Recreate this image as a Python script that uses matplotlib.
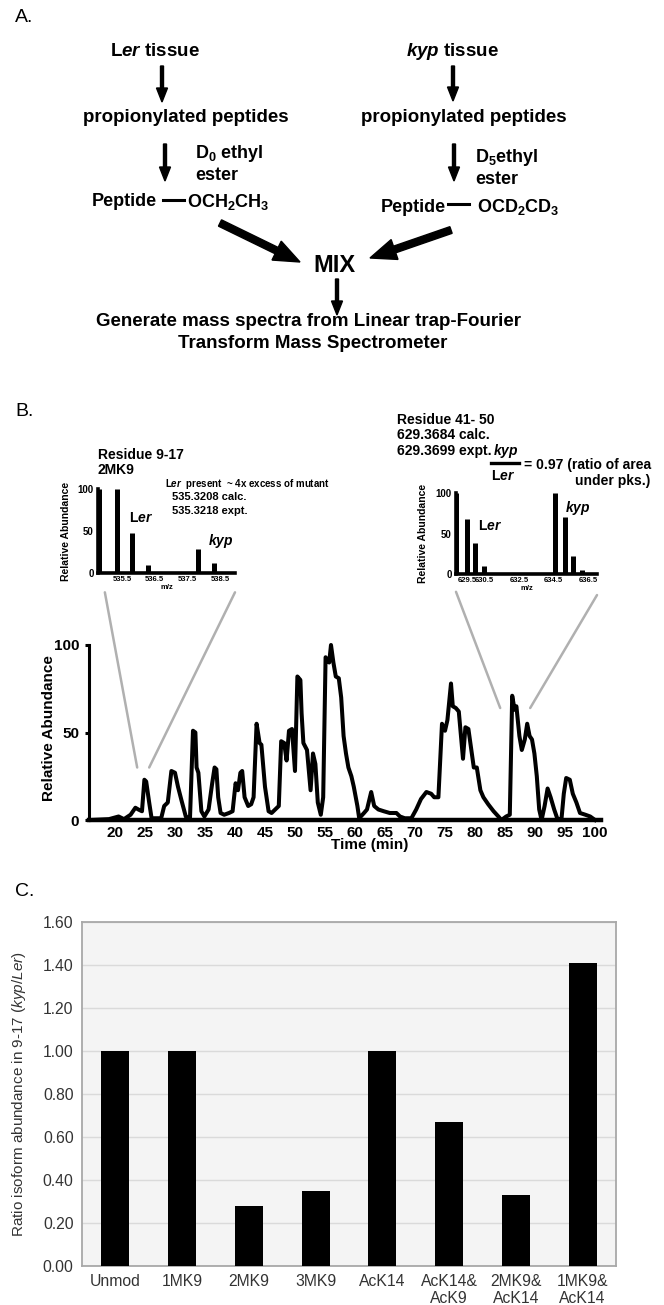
import numpy as np
import matplotlib
matplotlib.use("Agg")
from matplotlib import pyplot as plt
from matplotlib.patches import ConnectionPatch

plt.rcParams["font.family"] = ["Liberation Sans", "DejaVu Sans"]
plt.rcParams["mathtext.fontset"] = "custom"
plt.rcParams["mathtext.rm"] = "Liberation Sans"
plt.rcParams["mathtext.it"] = "Liberation Sans:italic"
plt.rcParams["mathtext.bf"] = "Liberation Sans:bold"
plt.rcParams["mathtext.bfit"] = "Liberation Sans:italic:bold"

# ---- data ----
# inset spectrum, residue 9-17 (2MK9)
mz_left = [534.79, 535.34, 535.80, 536.29, 537.83, 538.32]
abund_left = [100, 100, 48, 10, 28, 12]
mz_left_ticks = [535.5, 536.5, 537.5, 538.5]

# inset spectrum, residue 41-50
mz_right = [628.86, 629.50, 629.96, 630.48, 634.59, 635.17, 635.63, 636.15]
abund_right = [100, 68, 38, 10, 100, 70, 22, 5]
mz_right_ticks = [629.5, 630.5, 632.5, 634.5, 636.5]

# chromatogram
time_min = [16.0, 19.0, 20.6, 21.5, 22.6, 23.4, 23.9, 24.5, 24.9, 25.2, 25.7, 26.1,
            27.7, 28.2, 28.8, 29.4, 30.0, 30.5, 31.1, 31.8, 32.5, 33.0, 33.4, 33.6,
            33.9, 34.4, 34.9, 35.6, 36.2, 36.6, 36.9, 37.2, 37.6, 38.2, 39.0, 39.6,
            40.1, 40.5, 40.9, 41.2, 41.6, 42.2, 42.7, 43.1, 43.6, 44.1, 44.4, 45.0,
            45.6, 46.1, 46.7, 47.3, 47.7, 48.2, 48.6, 49.0, 49.5, 50.0, 50.4, 50.9,
            51.1, 51.4, 52.0, 52.6, 53.0, 53.4, 53.8, 54.3, 54.7, 55.1, 55.7, 56.0,
            56.4, 56.8, 57.3, 57.7, 58.1, 58.5, 58.9, 59.4, 59.8, 60.4, 60.7, 61.5,
            62.0, 62.7, 63.2, 63.9, 64.8, 65.8, 66.9, 67.5, 68.3, 69.4, 70.2, 71.0,
            71.9, 72.7, 73.2, 73.9, 74.5, 75.0, 75.4, 76.0, 76.3, 76.8, 77.3, 78.0,
            78.4, 78.9, 79.4, 79.8, 80.3, 80.9, 81.4, 82.2, 83.1, 83.9, 84.4, 85.2,
            85.8, 86.2, 86.6, 86.9, 87.4, 87.8, 88.3, 88.7, 89.1, 89.5, 89.9, 90.3,
            90.7, 91.1, 91.6, 92.1, 92.6, 93.2, 93.7, 94.4, 94.8, 95.2, 95.8, 96.3,
            96.9, 97.5, 98.4, 99.2, 100.0]
rel_abund = [0, 0.5, 2, 0.5, 3, 7, 6, 5, 23, 22, 10, 1,
             1, 8, 10, 28, 27, 19, 11, 2, 1, 51, 50, 30,
             27, 5, 2, 6, 21, 30, 29, 13, 4, 3, 4, 5,
             21, 17, 27, 28, 13, 8, 9, 13, 55, 44, 43, 19,
             5, 4, 6, 8, 45, 44, 34, 51, 52, 28, 82, 80,
             61, 44, 40, 17, 38, 32, 10, 3, 13, 93, 90, 100,
             90, 82, 81, 70, 48, 38, 30, 25, 19, 8, 1, 4,
             6, 16, 8, 6, 5, 4, 4, 2, 1, 1, 6, 12,
             16, 15, 13, 13, 55, 51, 57, 78, 65, 64, 62, 35,
             53, 52, 40, 30, 30, 17, 13, 9, 5, 2, 0, 2,
             3, 71, 63, 65, 48, 40, 46, 55, 48, 46, 38, 25,
             6, 0, 8, 18, 13, 6, 1, 0, 15, 24, 23, 15,
             10, 4, 3, 2, 0]
time_ticks = list(range(20, 101, 5))

# ratio bar chart
isoforms = ["Unmod", "1MK9", "2MK9", "3MK9", "AcK14",
            "AcK14&\nAcK9", "2MK9&\nAcK14", "1MK9&\nAcK14"]
ratios = [1.00, 1.00, 0.28, 0.35, 1.00, 0.67, 0.33, 1.41]

W, H = 664, 1305
fig = plt.figure(figsize=(W / 100, H / 100), dpi=100)


def frac(left, top, right, bottom):
    return [left / W, 1 - bottom / H, (right - left) / W, (bottom - top) / H]


# overlay in pixel units for the scheme and annotations
ax0 = fig.add_axes([0, 0, 1, 1])
ax0.set_xlim(0, W)
ax0.set_ylim(H, 0)
ax0.axis("off")

bold = dict(fontweight="bold", color="black")

# ---- A. flow scheme ----
ax0.text(15, 18, "A.", fontsize=14, ha="left", va="center")
ax0.text(155, 51, r"L$\mathbfit{er}$ tissue", fontsize=13.5, ha="center", va="center", **bold)
ax0.text(453, 51, r"$\mathbfit{kyp}$ tissue", fontsize=13.5, ha="center", va="center", **bold)
for x in (186, 464):
    ax0.text(x, 117, "propionylated peptides", fontsize=13.5, ha="center", va="center", **bold)

arrow_kw = dict(width=3, head_width=11, head_length=14, length_includes_head=True,
                fc="k", ec="k")
ax0.arrow(162, 66, 0, 36, **arrow_kw)
ax0.arrow(453, 66, 0, 35, **arrow_kw)
ax0.arrow(165, 144, 0, 37, **arrow_kw)
ax0.arrow(454, 144, 0, 37, **arrow_kw)

ax0.text(195, 154, r"D$_\mathbf{0}$ ethyl", fontsize=13, ha="left", va="center", **bold)
ax0.text(195, 176, "ester", fontsize=13, ha="left", va="center", **bold)
ax0.text(475, 157, r"D$_\mathbf{5}$ethyl", fontsize=13, ha="left", va="center", **bold)
ax0.text(475, 180, "ester", fontsize=13, ha="left", va="center", **bold)

ax0.text(92, 202, "Peptide", fontsize=13, ha="left", va="center", **bold)
ax0.plot([163, 184], [200, 200], color="k", lw=2.2)
ax0.text(187, 202, r"OCH$_\mathbf{2}$CH$_\mathbf{3}$", fontsize=13, ha="left", va="center", **bold)
ax0.text(381, 207, "Peptide", fontsize=13, ha="left", va="center", **bold)
ax0.plot([448, 469], [204, 204], color="k", lw=2.2)
ax0.text(477, 207, r"OCD$_\mathbf{2}$CD$_\mathbf{3}$", fontsize=13, ha="left", va="center", **bold)

big_kw = dict(width=7, head_width=21, head_length=26, length_includes_head=True,
              fc="k", ec="k")
ax0.arrow(220, 223, 80, 39, **big_kw)
ax0.arrow(451, 230, -81, 28, **big_kw)
ax0.text(334, 265, "MIX", fontsize=17, ha="center", va="center", **bold)
ax0.arrow(337, 279, 0, 36, **arrow_kw)
ax0.text(309, 322, "Generate mass spectra from Linear trap-Fourier",
         fontsize=13.5, ha="center", va="center", **bold)
ax0.text(313, 344, "Transform Mass Spectrometer",
         fontsize=13.5, ha="center", va="center", **bold)

# ---- B. annotations ----
ax0.text(15, 411, "B.", fontsize=14, ha="left", va="center")
ax0.text(98, 455, "Residue 9-17", fontsize=10, ha="left", va="center", **bold)
ax0.text(98, 470, "2MK9", fontsize=10, ha="left", va="center", **bold)
ax0.text(165, 484, r"L$\mathbfit{er}$  present  ~ 4x excess of mutant",
         fontsize=7, ha="left", va="center", **bold)
ax0.text(172, 497, "535.3208 calc.", fontsize=8, ha="left", va="center", **bold)
ax0.text(172, 511, "535.3218 expt.", fontsize=8, ha="left", va="center", **bold)
ax0.text(129, 518, r"L$\mathbfit{er}$", fontsize=10, ha="left", va="center", **bold)
ax0.text(208, 541, r"$\mathbfit{kyp}$", fontsize=10, ha="left", va="center", **bold)

ax0.text(397, 420, "Residue 41- 50", fontsize=10, ha="left", va="center", **bold)
ax0.text(397, 435, "629.3684 calc.", fontsize=10, ha="left", va="center", **bold)
ax0.text(397, 451, "629.3699 expt.", fontsize=10, ha="left", va="center", **bold)
ax0.text(506, 451, r"$\mathbfit{kyp}$", fontsize=10, ha="center", va="center", **bold)
ax0.plot([491, 519], [463, 463], color="k", lw=2.4)
ax0.text(503, 476, r"L$\mathbfit{er}$", fontsize=10, ha="center", va="center", **bold)
ax0.text(524, 465, "= 0.97 (ratio of area", fontsize=10, ha="left", va="center", **bold)
ax0.text(650, 481, "under pks.)", fontsize=10, ha="right", va="center", **bold)
ax0.text(478, 526, r"L$\mathbfit{er}$", fontsize=10, ha="left", va="center", **bold)
ax0.text(565, 508, r"$\mathbfit{kyp}$", fontsize=10, ha="left", va="center", **bold)


def style_inset(ax, xlim, ticks):
    ax.set_xlim(*xlim)
    ax.set_ylim(0, 100)
    for s in ("top", "right"):
        ax.spines[s].set_visible(False)
    for s in ("left", "bottom"):
        ax.spines[s].set_linewidth(2.6)
    ax.set_yticks([0, 50, 100])
    ax.set_xticks(ticks)
    ax.set_xticklabels([f"{t:.1f}" for t in ticks])
    ax.tick_params(axis="y", length=0, pad=3, labelsize=7)
    ax.tick_params(axis="x", length=0, pad=2, labelsize=5.5)
    for lab in ax.get_xticklabels() + ax.get_yticklabels():
        lab.set_fontweight("bold")
    ax.set_xlabel("m/z", fontsize=5.5, fontweight="bold", labelpad=1)
    ax.set_ylabel("Relative Abundance", fontsize=7.5, fontweight="bold")
    ax.patch.set_alpha(0)


ax_l = fig.add_axes(frac(98, 489, 235, 573))
ax_l.vlines(mz_left, 0, abund_left, colors="k", lw=3.6)
style_inset(ax_l, (534.76, 538.96), mz_left_ticks)
ax_l.yaxis.set_label_coords(-0.2, 0.5)

ax_r = fig.add_axes(frac(456, 493, 597, 574))
ax_r.vlines(mz_right, 0, abund_right, colors="k", lw=3.6)
style_inset(ax_r, (628.86, 637.0), mz_right_ticks)
ax_r.yaxis.set_label_coords(-0.2, 0.5)

# chromatogram
ax_c = fig.add_axes(frac(89, 645, 601, 820))
ax_c.plot(time_min, rel_abund, color="k", lw=2.9, solid_joinstyle="round", clip_on=False)
ax_c.set_xlim(15.67, 101)
ax_c.set_ylim(0, 100)
for s in ("top", "right"):
    ax_c.spines[s].set_visible(False)
ax_c.spines["left"].set_linewidth(2.2)
ax_c.spines["bottom"].set_linewidth(3.2)
ax_c.set_yticks([0, 50, 100])
ax_c.set_xticks(time_ticks)
ax_c.tick_params(axis="y", length=3, width=2.2, pad=4, labelsize=11)
ax_c.tick_params(axis="x", length=0, pad=4, labelsize=11)
for lab in ax_c.get_xticklabels() + ax_c.get_yticklabels():
    lab.set_fontweight("bold")
ax_c.set_xlabel("Time (min)", fontsize=11, fontweight="bold")
ax_c.xaxis.set_label_coords((370 - 89) / 512, -0.105)
ax_c.set_ylabel("Relative Abundance", fontsize=11, fontweight="bold")
ax_c.yaxis.set_label_coords(-0.064, 0.526)
ax_c.patch.set_alpha(0)

# zoom connector lines
gray = "#b0b0b0"
for xa, ya, xb, yb, src in [(0.05, -0.23, 23.7, 30, ax_l), (1.0, -0.23, 25.7, 30, ax_l),
                            (0.0, -0.22, 84.2, 64, ax_r), (1.0, -0.26, 89.2, 64, ax_r)]:
    con = ConnectionPatch(xyA=(xa, ya), coordsA=src.transAxes, xyB=(xb, yb),
                          coordsB=ax_c.transData, color=gray, lw=1.8)
    fig.add_artist(con)

# ---- C. ratio bar chart ----
ax0.text(15, 892, "C.", fontsize=14, ha="left", va="center")
ax_b = fig.add_axes(frac(82, 922, 616, 1266))
x = np.arange(len(isoforms))
ax_b.bar(x, ratios, width=0.42, color="black", zorder=3)
ax_b.set_xlim(-0.5, len(isoforms) - 0.5)
ax_b.set_ylim(0, 1.6)
ax_b.set_facecolor("#f4f4f4")
ax_b.yaxis.grid(True, color="#dadada", lw=1.0)
ax_b.set_axisbelow(True)
for s in ax_b.spines.values():
    s.set_color("#a8a8a8")
    s.set_linewidth(1.3)
yt = np.arange(0, 1.61, 0.2)
ax_b.set_yticks(yt)
ax_b.set_yticklabels([f"{v:.2f}" for v in yt])
ax_b.set_xticks(x)
ax_b.set_xticklabels(isoforms, linespacing=1.1)
ax_b.tick_params(length=0, labelsize=11.3, colors="#333333")
ax_b.tick_params(axis="y", pad=6)
ax_b.tick_params(axis="x", pad=6)
ax_b.set_ylabel(r"Ratio isoform abundance in 9-17 $\mathit{(kyp/Ler)}$",
                fontsize=11, color="#333333")
ax_b.yaxis.set_label_coords(-0.101, 0.5)

fig.savefig("out.png", dpi=100)
